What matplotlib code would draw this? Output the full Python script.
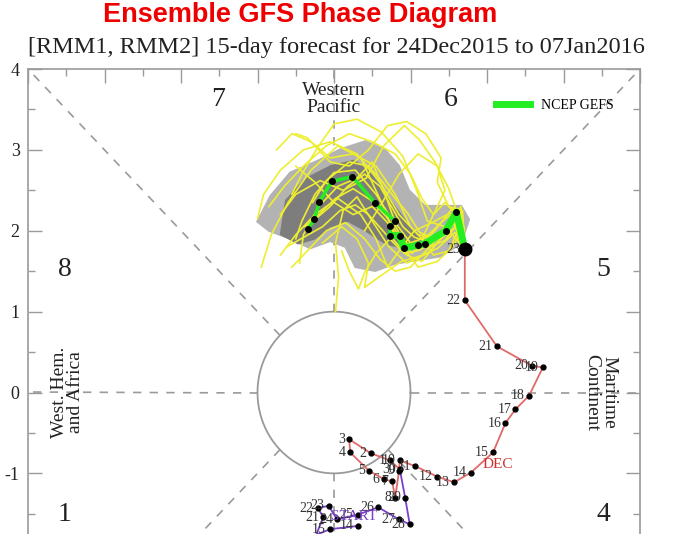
import numpy as np
import matplotlib.pyplot as plt
from matplotlib.lines import Line2D

plt.rcParams['font.family'] = ['Liberation Serif', 'DejaVu Serif']

# observed RMM1/RMM2, 14-30 Nov 2015
nov_days = list(range(14, 31))
nov_x = [0.31, -0.05, -0.31, -0.45, -0.35, -0.20, -0.25, -0.14, -0.21, -0.07, 0.04, 0.31, 0.58, 0.85, 0.99, 0.93, 0.86]
nov_y = [-1.65, -1.69, -1.79, -1.95, -2.10, -2.00, -1.80, -1.54, -1.43, -1.40, -1.57, -1.51, -1.42, -1.57, -1.63, -1.30, -0.95]

# observed RMM1/RMM2, 1-23 Dec 2015
dec_days = list(range(1, 24))
dec_x = [0.73, 0.48, 0.20, 0.21, 0.46, 0.65, 0.76, 0.80, 0.85, 0.86, 1.06, 1.35, 1.57, 1.79,
         2.08, 2.24, 2.37, 2.55, 2.73, 2.59, 2.13, 1.71, 1.71]
dec_y = [-0.84, -0.75, -0.58, -0.74, -0.97, -1.07, -1.10, -1.30, -0.97, -0.84, -0.91, -1.04, -1.11, -0.99,
         -0.74, -0.38, -0.21, -0.04, 0.31, 0.33, 0.57, 1.14, 1.77]

# GEFS ensemble mean, 24 Dec - 07 Jan (first point = 23 Dec analysis)
mean_x = [1.71, 1.60, 1.46, 1.19, 1.10, 0.91, 0.86, 0.73, 0.73, 0.80, 0.54, 0.24, -0.03, -0.19, -0.26, -0.34]
mean_y = [1.77, 2.23, 2.00, 1.84, 1.82, 1.79, 1.94, 1.94, 2.06, 2.12, 2.34, 2.67, 2.61, 2.36, 2.14, 2.02]

# individual GEFS members
ens_x = [
    [1.71, 1.62, 1.42, 1.15, 0.92, 0.75, 0.55, 0.28, 0.00, -0.25, -0.42, -0.50],
    [1.71, 1.55, 1.30, 1.02, 0.80, 0.62, 0.35, 0.05, -0.30, -0.60, -0.82, -0.95],
    [1.71, 1.66, 1.45, 1.22, 1.08, 0.90, 0.62, 0.30, 0.00, -0.22, -0.42, -0.55],
    [1.71, 1.50, 1.22, 0.95, 0.72, 0.50, 0.30, 0.12, 0.02, 0.06, 0.02],
    [1.71, 1.62, 1.50, 1.32, 1.12, 0.92, 0.65, 0.42, 0.12, -0.18, -0.50, -0.70],
    [1.71, 1.55, 1.35, 1.15, 0.95, 0.75, 0.55, 0.40, 0.32, 0.20, 0.10],
    [1.71, 1.60, 1.38, 1.10, 0.85, 0.60, 0.30, -0.05, -0.40, -0.70, -0.92, -1.00],
    [1.71, 1.68, 1.50, 1.35, 1.40, 1.20, 0.95, 0.70, 0.45, 0.20, -0.05, -0.35, -0.50],
    [1.71, 1.58, 1.40, 1.20, 1.00, 0.80, 0.60, 0.40, 0.15, -0.10, -0.35, -0.55],
    [1.71, 1.52, 1.28, 1.05, 0.85, 0.70, 0.55, 0.35, 0.05, -0.25, -0.50, -0.70],
    [1.71, 1.64, 1.45, 1.25, 1.00, 0.80, 0.55, 0.25, -0.05, -0.30, -0.55, -0.75],
    [1.71, 1.58, 1.35, 1.10, 0.88, 0.62, 0.40, 0.45, 0.30, 0.10, -0.15],
    [1.71, 1.62, 1.45, 1.30, 1.15, 1.00, 0.80, 0.50, 0.20, -0.10, -0.40, -0.65, -0.85],
    [1.71, 1.70, 1.55, 1.35, 1.10, 0.90, 0.70, 0.50, 0.25, 0.00, -0.25, -0.50],
    [1.71, 1.60, 1.42, 1.20, 1.00, 0.80, 0.65, 0.50, 0.30, 0.05, -0.20, -0.40, -0.45],
    [1.71, 1.66, 1.50, 1.30, 1.15, 1.30, 1.45, 1.35, 1.10, 0.85, 0.60, 0.40],
    [1.71, 1.63, 1.48, 1.25, 1.05, 0.90, 0.78, 0.60, 0.40, 0.18, -0.05, -0.30],
    [1.71, 1.57, 1.38, 1.15, 0.95, 0.82, 0.68, 0.48, 0.25, 0.02, -0.20, -0.38],
    [1.71, 1.65, 1.52, 1.32, 1.12, 0.96, 0.80, 0.62, 0.45, 0.20, -0.10, -0.28],
    [1.71, 1.54, 1.33, 1.12, 0.92, 0.78, 0.62, 0.45, 0.28, 0.08, -0.15, -0.62],
]
ens_y = [
    [1.77, 2.15, 2.02, 1.82, 1.85, 2.15, 2.45, 2.75, 2.72, 2.45, 2.12, 1.90],
    [1.77, 2.28, 1.98, 1.72, 1.95, 2.35, 2.90, 3.05, 2.75, 2.35, 1.95, 1.55],
    [1.77, 2.30, 2.05, 2.12, 2.50, 2.92, 3.22, 3.38, 3.32, 3.02, 2.70, 2.45],
    [1.77, 2.00, 1.72, 1.60, 1.80, 2.12, 2.42, 2.25, 1.85, 1.42, 1.00],
    [1.77, 2.20, 2.52, 2.85, 3.12, 3.30, 3.05, 2.65, 2.50, 2.62, 2.45, 2.20],
    [1.77, 2.15, 1.85, 1.62, 1.70, 1.92, 1.72, 1.48, 1.28, 1.50, 1.75],
    [1.77, 2.05, 1.90, 1.95, 2.20, 2.60, 2.95, 3.10, 3.00, 2.75, 2.45, 2.15],
    [1.77, 2.25, 2.30, 2.60, 2.90, 3.20, 3.35, 3.30, 3.00, 2.80, 2.85, 3.15, 3.20],
    [1.77, 2.10, 1.95, 1.75, 1.55, 1.50, 1.65, 1.90, 2.10, 2.00, 1.75, 1.55],
    [1.77, 2.22, 2.10, 2.00, 1.75, 1.55, 1.90, 2.20, 2.40, 2.20, 1.95, 1.70],
    [1.77, 2.12, 1.88, 1.80, 2.05, 2.45, 2.80, 2.95, 2.90, 3.10, 3.20, 3.00],
    [1.77, 1.98, 1.78, 1.68, 1.62, 1.45, 1.30, 1.60, 1.90, 2.05, 1.85],
    [1.77, 2.18, 2.35, 2.20, 2.40, 2.70, 2.95, 3.10, 3.20, 3.05, 2.80, 2.55, 2.30],
    [1.77, 2.05, 1.80, 1.62, 1.55, 1.80, 2.10, 2.30, 2.20, 2.35, 2.60, 2.80],
    [1.77, 2.25, 2.12, 1.92, 1.85, 2.10, 2.50, 2.85, 2.65, 2.55, 2.30, 1.95, 1.60],
    [1.77, 2.08, 1.75, 1.70, 1.90, 2.20, 2.50, 2.80, 2.95, 2.70, 2.30, 2.00],
    [1.77, 2.20, 1.96, 1.86, 1.92, 2.05, 2.25, 2.55, 2.70, 2.55, 2.30, 2.10],
    [1.77, 2.18, 1.92, 1.78, 1.80, 1.98, 2.18, 2.38, 2.52, 2.40, 2.20, 2.05],
    [1.77, 2.24, 2.06, 1.90, 1.98, 2.22, 2.40, 2.62, 2.80, 2.85, 2.62, 2.35],
    [1.77, 2.14, 1.90, 1.76, 1.72, 1.85, 2.02, 2.20, 2.32, 2.25, 2.05, 1.80],
]

# ensemble spread areas (outer = light, inner = dark)
outer_x = [-1.02, -0.84, -0.58, -0.21, 0.08, 0.41, 0.67, 0.86, 0.99, 1.19, 1.45, 1.67, 1.78, 1.67,
           1.39, 1.06, 0.80, 0.54, 0.27, 0.14, -0.05, -0.31, -0.58, -0.86]
outer_y = [2.11, 2.44, 2.73, 2.88, 3.02, 3.12, 3.02, 2.81, 2.51, 2.32, 2.32, 2.32, 2.14, 1.83,
           1.67, 1.62, 1.58, 1.49, 1.54, 1.79, 1.86, 1.77, 1.89, 1.99]
inner_x = [-0.71, -0.64, -0.38, -0.05, 0.27, 0.47, 0.67, 0.84, 0.99, 1.19, 0.93, 0.67, 0.41, 0.18,
           -0.05, -0.25, -0.47]
inner_y = [1.95, 2.38, 2.65, 2.81, 2.88, 2.73, 2.48, 2.26, 2.07, 1.89, 1.77, 1.83, 1.99, 2.11,
           2.04, 1.89, 1.83]

phase_names = ['1', '2', '3', '4', '5', '6', '7', '8']

fig = plt.figure(figsize=(6.76, 5.34), dpi=100)
# the original picture is cut off at about RMM2 = -1.75
ax = fig.add_axes([28 / 676, 1 - 716 / 534, 612 / 676, 647 / 534])
ax.set_xlim(-4, 4)
ax.set_ylim(-4, 4)

# guide lines and unit circle
grey = '#9a9a9a'
for a in np.deg2rad(np.arange(0, 360, 45)):
    c, s = np.cos(a), np.sin(a)
    r = 4 / max(abs(c), abs(s))
    ax.plot([c, r * c], [s, r * s], color=grey, lw=1.2, ls=(0, (5, 5)), zorder=1)
t = np.linspace(0, 2 * np.pi, 200)
ax.plot(np.cos(t), np.sin(t), color=grey, lw=1.3, zorder=1)

# phase numbers (2 and 3 fall below the cropped edge)
px = [-3.52, -1.52, 1.52, 3.52, 3.52, 1.52, -1.52, -3.52]
py = [-1.51, -3.62, -3.62, -1.51, 1.52, 3.62, 3.62, 1.52]
for name, x, y in zip(phase_names, px, py):
    if y < -2:
        continue
    ax.text(x, y, name, fontsize=20, ha='center', va='center', color='#222222')

ax.text(0, 3.63, 'Western\nPacific', fontsize=14, ha='center', va='center',
        linespacing=0.95, color='#222222')
ax.text(-3.48, 0, 'West. Hem.\nand Africa', fontsize=14, ha='center', va='center',
        rotation=90, linespacing=0.95, color='#222222')
ax.text(3.48, 0, 'Maritime\nContinent', fontsize=14, ha='center', va='center',
        rotation=-90, linespacing=0.95, color='#222222')

# ensemble spread and members
ax.fill(outer_x, outer_y, color='#b3b3b3', lw=0, zorder=2)
ax.fill(inner_x, inner_y, color='#7d7d7d', lw=0, zorder=2)
for xs, ys in zip(ens_x, ens_y):
    ax.plot(xs, ys, color='#eeee30', lw=1.2, zorder=3)

# ensemble mean: thick first week, thinner second week
ax.plot(mean_x[:8], mean_y[:8], color='#22ee22', lw=5, solid_capstyle='round', zorder=4)
ax.plot(mean_x[7:], mean_y[7:], color='#22ee22', lw=2.5, zorder=4)
ax.plot(mean_x[1:], mean_y[1:], 'o', color='black', ms=4, zorder=5)

# observed path
ax.plot(nov_x, nov_y, color='#7a40c8', lw=1.3, zorder=5)
ax.plot([nov_x[-1]] + dec_x, [nov_y[-1]] + dec_y, color='#e06a6a', lw=1.3, zorder=5)
ax.plot(nov_x + dec_x, nov_y + dec_y, 'o', color='black', ms=3.5, zorder=6)
ax.plot(dec_x[-1], dec_y[-1], 'o', color='black', ms=9, zorder=6)
for d, x, y in zip(nov_days + dec_days, nov_x + dec_x, nov_y + dec_y):
    if y < -1.72:
        continue
    ax.annotate(str(d), (x, y), xytext=(-3, 0), textcoords='offset points',
                ha='right', va='center', fontsize=10, color='#333333', zorder=6)
ax.text(nov_x[0] - 0.05, nov_y[0] + 0.12, 'START', fontsize=11, color='#7a40c8',
        ha='center', va='center', zorder=6)
ax.text(dec_x[13] + 0.15, dec_y[13] + 0.1, 'DEC', fontsize=11, color='#d03030',
        ha='left', va='center', zorder=6)

# legend
handle = Line2D([], [], color='#22ee22', lw=5)
ax.legend([handle], ['NCEP GEFS'], loc='center left', bbox_to_anchor=(0.745, 0.944),
          frameon=False, handlelength=2.4, handletextpad=0.8,
          prop={'family': 'Liberation Serif', 'size': 10})

# axes, ticks
ax.set_xticks(np.arange(-4, 5, 1))
ax.set_yticks(np.arange(-4, 5, 1))
ax.set_xticks(np.arange(-4, 4.5, 0.5), minor=True)
ax.set_yticks(np.arange(-4, 4.5, 0.5), minor=True)
ax.set_yticklabels([str(v) for v in range(-4, 5)])
ax.tick_params(which='both', direction='in', top=True, right=True, color=grey,
               labelbottom=False, labelsize=13, labelcolor='#222222', pad=6)
ax.tick_params(which='major', length=10, width=1)
ax.tick_params(which='minor', length=5, width=1)
for sp in ax.spines.values():
    sp.set_color(grey)
    sp.set_linewidth(1.2)

fig.text(300 / 676, 1 - 15 / 534, 'Ensemble GFS Phase Diagram', color='#ee0000',
         fontsize=19.5, fontweight='bold', family='Liberation Sans', ha='center', va='center')
fig.text(336 / 676, 1 - 48 / 534, '[RMM1, RMM2] 15-day forecast for 24Dec2015 to 07Jan2016',
         fontsize=17.5, ha='center', va='center', color='#222222')

fig.savefig('out.png', dpi=100)
